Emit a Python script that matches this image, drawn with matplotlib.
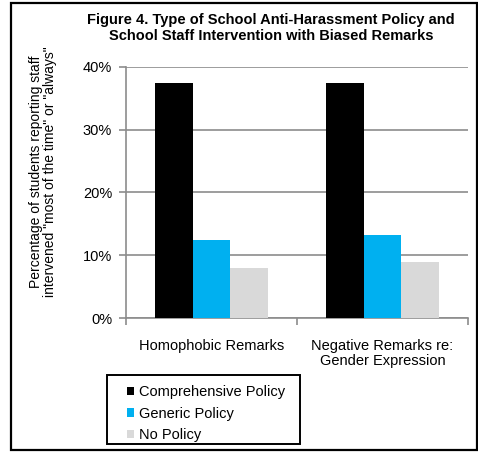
import matplotlib
matplotlib.use("Agg")
import matplotlib.pyplot as plt
import numpy as np
from matplotlib.patches import Rectangle

categories = ["Homophobic Remarks", "Negative Remarks re:\nGender Expression"]
series_names = ["Comprehensive Policy", "Generic Policy", "No Policy"]
comprehensive = [37.5, 37.5]
generic = [12.4, 13.2]
no_policy = [7.9, 9.0]
y_ticks = [0, 10, 20, 30, 40]
y_tick_labels = ["0%", "10%", "20%", "30%", "40%"]
colors = ["#000000", "#00B0F0", "#D9D9D9"]

plt.rcParams['font.family'] = ['Liberation Sans', 'DejaVu Sans']

W, H = 478, 453
fig = plt.figure(figsize=(W/100, H/100), dpi=100)
ax = fig.add_axes([126/W, 1-318/H, (468-126)/W, (318-67)/H])

x = np.arange(len(categories))
bw = 0.22
handles = []
for i, (vals, name) in enumerate(zip([comprehensive, generic, no_policy], series_names)):
    b = ax.bar(x + (i-1)*bw, vals, bw, color=colors[i], label=name, zorder=3)
    handles.append(b)

ax.set_xlim(-0.5, 1.5)
ax.set_ylim(0, 40)
ax.set_yticks(y_ticks)
ax.set_yticklabels(y_tick_labels, fontsize=10.5)
ax.yaxis.grid(True, color="#8c8c8c", linewidth=1.2, zorder=0)
ax.set_xticks([-0.5, 0.5, 1.5])
ax.set_xticklabels([])
ax.tick_params(axis='x', length=5, color="#8c8c8c", width=1.2)
ax.tick_params(axis='y', length=5, color="#8c8c8c", width=1.2, pad=5, direction='out')
for s in ["top", "right"]:
    ax.spines[s].set_visible(False)
for s in ["left", "bottom"]:
    ax.spines[s].set_color("#8c8c8c")
    ax.spines[s].set_linewidth(1.2)

for xi, c in zip(x, categories):
    ax.text(xi, -0.085, c, transform=ax.get_xaxis_transform(), ha='center', va='top',
            fontsize=10.5, linespacing=1.05)

fig.text(271/W, 1-28/H, "Figure 4. Type of School Anti-Harassment Policy and\nSchool Staff Intervention with Biased Remarks",
         ha='center', va='center', fontsize=10.5, fontweight='bold', linespacing=1.1)

fig.text(43/W, 1-172/H, "Percentage of students reporting staff\nintervened \"most of the time\" or \"always\"",
         ha='center', va='center', rotation=90, fontsize=10, linespacing=1.05)

leg = fig.legend(handles=handles, labels=series_names, loc='upper left',
                 bbox_to_anchor=(127/W, 1-385/H), bbox_transform=fig.transFigure,
                 fontsize=10.5, frameon=False,
                 handlelength=0.5, handleheight=0.5, handletextpad=0.35,
                 borderpad=0, labelspacing=0.53, borderaxespad=0)

fig.patches.append(Rectangle((107/W, 1-444/H), (300-107)/W, (444-375)/H, transform=fig.transFigure,
                             fill=False, edgecolor='black', linewidth=1.4))

fig.patches.append(Rectangle((11/W, 1-450/H), (477-11)/W, (450-3)/H, transform=fig.transFigure,
                             fill=False, edgecolor='black', linewidth=1.6))

fig.savefig("out.png", dpi=100)
